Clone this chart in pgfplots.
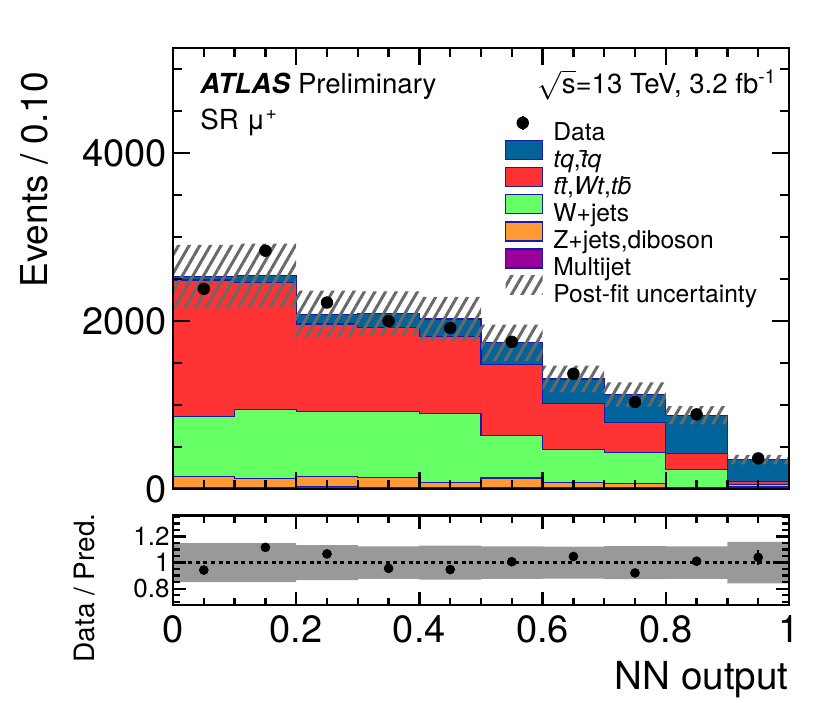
\documentclass[border=0pt]{standalone}
\usepackage{fontspec}
\setmainfont{TeX Gyre Heros}
\usepackage{amsmath}
\usepackage{pgfplots}
\usepackage{pgfplotstable}
\pgfplotsset{compat=1.18}
\usepgfplotslibrary{fillbetween}
\usetikzlibrary{patterns.meta}
\definecolor{tqblue}{RGB}{0,99,153}
\definecolor{ttred}{RGB}{255,51,51}
\definecolor{wgreen}{RGB}{102,255,102}
\definecolor{zorange}{RGB}{255,153,51}
\definecolor{mjpurple}{RGB}{153,0,153}
\definecolor{outl}{RGB}{25,25,170}
\definecolor{hatchc}{RGB}{105,105,105}
\definecolor{bandgray}{RGB}{153,153,153}

% cumulative stack tops per bin (left edge), uncertainty band
\pgfplotstableread{
x   tot  tt   wj   zj   mj  up   lo   rup   rlo
0.0 2527 2488 860  145  20  2906 2148 1.150 0.850
0.1 2540 2460 950  128  20  2921 2159 1.150 0.850
0.2 2080 1964 918  152  25  2361 1799 1.135 0.865
0.3 2091 1925 924  138  20  2352 1830 1.125 0.875
0.4 2024 1813 895  82   15  2287 1761 1.130 0.870
0.5 1740 1485 638  130  20  1958 1522 1.125 0.875
0.6 1310 1015 466  82   15  1470 1150 1.122 0.878
0.7 1125 787  435  62   15  1268 982  1.127 0.873
0.8 878  420  232  22   8   988  768  1.125 0.875
0.9 350  88   57   30   12  406  294  1.160 0.840
1.0 350  88   57   30   12  406  294  1.160 0.840
}\hist

\pgfplotstableread{
x    y    ey   r     er
0.05 2383 48.8 0.943 0.019
0.15 2837 53.3 1.117 0.021
0.25 2220 47.1 1.067 0.023
0.35 2000 44.7 0.956 0.021
0.45 1917 43.8 0.947 0.022
0.55 1752 41.9 1.007 0.024
0.65 1372 37.0 1.047 0.028
0.75 1036 32.2 0.921 0.029
0.85 888  29.8 1.011 0.034
0.95 364  19.1 1.040 0.055
}\data

\newcommand{\tickfont}{\fontsize{19}{22}\selectfont}
\newcommand{\legfont}{\fontsize{12.3}{14}\selectfont}
\newcommand{\txtfont}{\fontsize{13.8}{16}\selectfont}

\begin{document}
\begin{tikzpicture}

\pgfplotsset{
  atlasstyle/.style={
    scale only axis,
    width=308pt,
    xmin=0, xmax=1,
    axis on top=true,
    axis line style={line width=1.3pt},
    every tick/.style={line width=1.2pt, black},
    tick align=inside,
    xtick pos=both, ytick pos=both,
    /pgf/number format/assume math mode=true,
    /pgf/number format/1000 sep={},
    scaled y ticks=false,
    scaled x ticks=false,
  }
}

% ---------------- main panel ----------------
\begin{axis}[atlasstyle,
  at={(86.5pt,106.5pt)}, anchor=south west,
  height=220.5pt,
  ymin=0, ymax=5250,
  xtick={0,0.2,0.4,0.6,0.8,1},
  minor xtick={0.05,0.1,0.15,0.25,0.3,0.35,0.45,0.5,0.55,0.65,0.7,0.75,0.85,0.9,0.95},
  xticklabels={},
  ytick={0,2000,4000},
  minor ytick={500,1000,1500,2500,3000,3500,4500,5000},
  major tick length=8.5pt, minor tick length=4.3pt,
  yticklabel style={font=\tickfont, inner sep=0pt, xshift=-3pt},
  fill between/on layer=main,
  legend cell align=left,
  legend style={at={(0.539,0.848)}, anchor=north west, draw=none, fill=none,
    inner sep=0pt, outer sep=0pt, font=\legfont, row sep=-2.8pt, column sep=5pt,
    nodes={inner sep=0pt, text height=11.2pt, text depth=2.5pt}},
]
\addplot[forget plot, const plot, fill=tqblue, draw=outl, line width=0.6pt] table[x=x,y=tot]{\hist} \closedcycle;
\addplot[forget plot, const plot, fill=ttred, draw=outl, line width=0.6pt] table[x=x,y=tt]{\hist} \closedcycle;
\addplot[forget plot, const plot, fill=wgreen, draw=outl, line width=0.6pt] table[x=x,y=wj]{\hist} \closedcycle;
\addplot[forget plot, const plot, fill=zorange, draw=outl, line width=0.6pt] table[x=x,y=zj]{\hist} \closedcycle;
\addplot[forget plot, const plot, fill=mjpurple, draw=outl, line width=0.6pt] table[x=x,y=mj]{\hist} \closedcycle;

\addplot[forget plot, const plot, draw=none, name path=up] table[x=x,y=up]{\hist};
\addplot[forget plot, const plot, draw=none, name path=lo] table[x=x,y=lo]{\hist};
\addplot[forget plot, draw=none, pattern={Lines[angle=60,distance=4.6pt,line width=1.5pt]}, pattern color=hatchc] fill between[of=up and lo];

\addplot[forget plot, only marks, mark=*, mark size=2.9pt, black,
  error bars/.cd, y dir=both, y explicit, error mark=none,
  error bar style={line width=1pt, black}]
  table[x=x, y=y, y error=ey]{\data};

\addlegendimage{legend image code/.code={\path[draw=none,fill=none] (0pt,0pt) rectangle (18.5pt,1pt);
  \draw[black,line width=0.9pt] (8.5pt,0.9pt)--(8.5pt,7.9pt);
  \fill[black] (8.5pt,4.4pt) circle (2.9pt);}}
\addlegendentry{Data}
\addlegendimage{legend image code/.code={\draw[fill=tqblue,draw=outl,line width=0.7pt] (0pt,-0.35pt) rectangle (18.5pt,9.15pt);}}
\addlegendentry{\textit{tq},\textit{\={t}q}}
\addlegendimage{legend image code/.code={\draw[fill=ttred,draw=outl,line width=0.7pt] (0pt,-0.35pt) rectangle (18.5pt,9.15pt);}}
\addlegendentry{\textit{t\={t}},\textit{Wt},\textit{t\={b}}}
\addlegendimage{legend image code/.code={\draw[fill=wgreen,draw=outl,line width=0.7pt] (0pt,-0.35pt) rectangle (18.5pt,9.15pt);}}
\addlegendentry{W+jets}
\addlegendimage{legend image code/.code={\draw[fill=zorange,draw=outl,line width=0.7pt] (0pt,-0.35pt) rectangle (18.5pt,9.15pt);}}
\addlegendentry{Z+jets,diboson}
\addlegendimage{legend image code/.code={\draw[fill=mjpurple,draw=outl,line width=0.7pt] (0pt,-0.35pt) rectangle (18.5pt,9.15pt);}}
\addlegendentry{Multijet}
\addlegendimage{legend image code/.code={\path[draw=none, pattern={Lines[angle=60,distance=4.6pt,line width=1.5pt]}, pattern color=hatchc] (0pt,-0.35pt) rectangle (18.5pt,9.15pt);}}
\addlegendentry{Post-fit uncertainty}
\end{axis}

% ---------------- ratio panel ----------------
\begin{axis}[atlasstyle,
  at={(86.5pt,48.5pt)}, anchor=south west,
  height=44.65pt,
  ymin=0.675, ymax=1.36,
  xtick={0,0.2,0.4,0.6,0.8,1},
  xticklabels={0,0.2,0.4,0.6,0.8,1},
  minor xtick={0.05,0.1,0.15,0.25,0.3,0.35,0.45,0.5,0.55,0.65,0.7,0.75,0.85,0.9,0.95},
  ytick={0.8,1,1.2},
  yticklabels={0.8,1,1.2},
  minor ytick={0.7,0.75,0.85,0.9,0.95,1.05,1.1,1.15,1.25,1.3,1.35},
  major tick length=6.5pt, minor tick length=3.5pt,
  xticklabel style={font=\tickfont, inner sep=0pt, yshift=-5pt},
  yticklabel style={font=\fontsize{13}{15}\selectfont, inner sep=0pt, xshift=-1.5pt},
]
\addplot[const plot, draw=none, name path=rup] table[x=x,y=rup]{\hist};
\addplot[const plot, draw=none, name path=rlo] table[x=x,y=rlo]{\hist};
\addplot[draw=none, fill=bandgray] fill between[of=rup and rlo];
\addplot[black, line width=1.3pt, dash pattern=on 2pt off 1.8pt] coordinates {(0,1) (1,1)};
\addplot[only marks, mark=*, mark size=2.2pt, black,
  error bars/.cd, y dir=both, y explicit, error mark=none,
  error bar style={line width=1pt, black}]
  table[x=x, y=r, y error=er]{\data};
\end{axis}

% ---------------- texts ----------------
\node[anchor=base west, font=\txtfont, inner sep=0pt] at (100pt,304pt) {\textbf{\textit{ATLAS}} Preliminary};
\node[anchor=base west, font=\txtfont, inner sep=0pt] at (100pt,286pt) {SR μ\textsuperscript{+}};
\node[anchor=base east, font=\txtfont, inner sep=0pt] at (388.5pt,304pt) {$\sqrt{\text{s}}$=13 TeV, 3.2 fb\textsuperscript{-1}};
\node[anchor=base west, rotate=90, font=\fontsize{18.5}{21}\selectfont, inner sep=0pt] at (23.5pt,207pt) {Events / 0.10};
\node[anchor=base east, rotate=90, font=\fontsize{14}{16}\selectfont, inner sep=0pt] at (47pt,94.5pt) {Data / Pred.};
\node[anchor=base east, font=\fontsize{19.3}{22}\selectfont, inner sep=0pt] at (394.5pt,6.5pt) {NN output};

\pgfresetboundingbox
\path[use as bounding box] (0,0) rectangle (415pt,351pt);
\end{tikzpicture}
\end{document}
